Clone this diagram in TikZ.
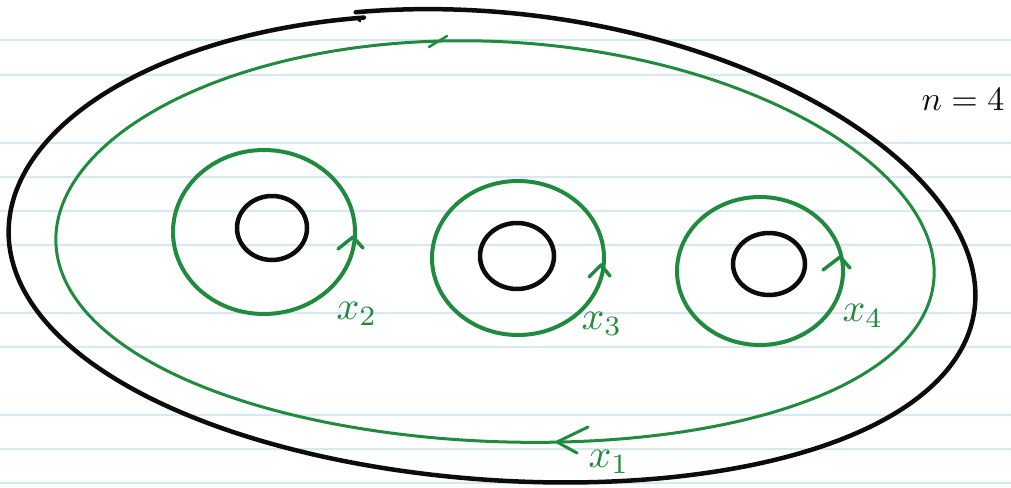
\documentclass[tikz,border=0pt]{standalone}
\usepackage{amsmath}
\usepackage{tikz}
\usetikzlibrary{calc}
\definecolor{inkGreen}{RGB}{32,138,62}
\definecolor{inkBlack}{RGB}{12,12,12}
\definecolor{ruleBlue}{RGB}{214,232,240}

\begin{document}
\begin{tikzpicture}[x=1pt,y=-1pt,line cap=round,line join=round]
\useasboundingbox (0,0) rectangle (1011,487);
\fill[white] (0,0) rectangle (1011,487);
% ruled paper
\foreach \yy in {40,75,143,177,211,245,313,347,415,449,483}
  \draw[ruleBlue, line width=1.2pt] (0,\yy)--(1011,\yy);
% surface boundary
\draw[inkBlack, line width=4.5pt, smooth, samples=200, domain=256:617, variable=\t]
  plot ({492+483*cos(\t)+20*sin(\t)}, {244+6*(\t-256)/361+234*sin(\t)+23.5*cos(\t)+16.5*cos(\t)^2});
\draw[inkBlack, line width=3pt] (357,17)--(360,21);
% holes
\draw[inkBlack, line width=4.5pt] (272,228) ellipse [x radius=35, y radius=32];
\draw[inkBlack, line width=4.5pt] (517,256) ellipse [x radius=37, y radius=33];
\draw[inkBlack, line width=4.5pt] (769,264) ellipse [x radius=36, y radius=31];
% loop x1
\draw[inkGreen, line width=3pt, smooth, samples=180, domain=0:360, variable=\t]
  plot ({495+439*cos(\t)+12*sin(\t)}, {241.5+200.5*sin(\t)+11*cos(\t)+14.5*cos(\t)^2}) -- cycle;
\draw[inkGreen, line width=2.5pt] (429,47)--(447,36);
\draw[inkGreen, line width=3pt] (588,427)--(557,442)--(577,453);
% loops x2, x3, x4
\draw[inkGreen, line width=4pt] (264,232) ellipse [x radius=91, y radius=82];
\draw[inkGreen, line width=4pt] (518,258) ellipse [x radius=86, y radius=77];
\draw[inkGreen, line width=4pt] (760,271) ellipse [x radius=83, y radius=74];
\draw[inkGreen, line width=3.5pt] (338,249)--(353,237)--(363,248);
\draw[inkGreen, line width=3.5pt] (589,277)--(601,265)--(610,276);
\draw[inkGreen, line width=3.5pt] (823,270)--(840,257)--(850,268);
% labels
\node[inkGreen, scale=4] (lblxtwo) at (357,314) {$x_2$};
\node[inkGreen, scale=4] (lblxthree) at (602,324) {$x_3$};
\node[inkGreen, scale=4] (lblxfour) at (863,316) {$x_4$};
\node[inkGreen, scale=4] (lblxone) at (609,462) {$x_1$};
\node[inkBlack, scale=3.4] (lbln) at (963,100) {$n=4$};
\end{tikzpicture}
\end{document}
